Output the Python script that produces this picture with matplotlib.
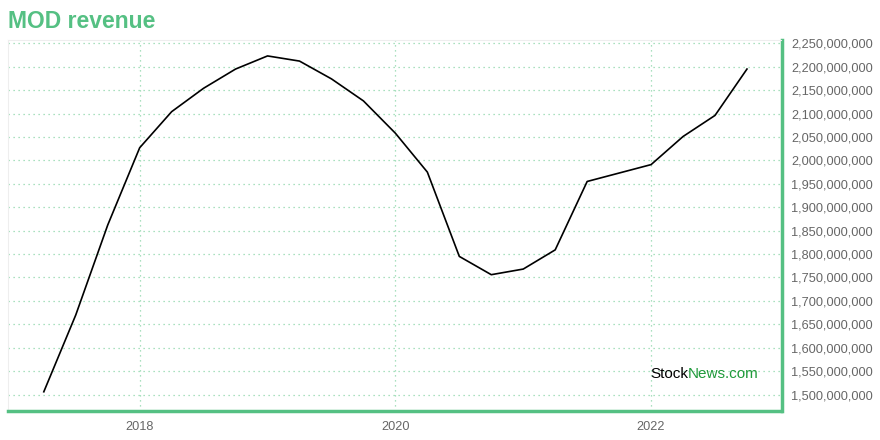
import matplotlib.pyplot as plt
from matplotlib.ticker import FuncFormatter

# quarterly revenue, decimal years
quarters = [2017.25, 2017.5, 2017.75, 2018.0, 2018.25, 2018.5, 2018.75, 2019.0,
            2019.25, 2019.5, 2019.75, 2020.0, 2020.25, 2020.5, 2020.75, 2021.0,
            2021.25, 2021.5, 2021.75, 2022.0, 2022.25, 2022.5, 2022.75]
revenue = [1.506e9, 1.670e9, 1.862e9, 2.027e9, 2.104e9, 2.154e9, 2.195e9, 2.223e9,
           2.212e9, 2.174e9, 2.127e9, 2.058e9, 1.975e9, 1.795e9, 1.756e9, 1.768e9,
           1.809e9, 1.955e9, 1.973e9, 1.991e9, 2.051e9, 2.096e9, 2.195e9]
year_ticks = [2018, 2020, 2022]
value_ticks = [1.5e9 + 50e6 * i for i in range(16)]

GREEN = '#55c083'
GRID = '#8ed6ab'
plt.rcParams['font.family'] = ['Liberation Sans', 'DejaVu Sans']

fig = plt.figure(figsize=(8.8, 4.4), dpi=100)
ax = fig.add_axes([8 / 880, 29 / 440, 773.5 / 880, 371 / 440])

ax.plot(quarters, revenue, color='black', linewidth=1.2)

ax.set_xlim(2016.97, 2023.02)
ax.set_ylim(1.465e9, 2.257e9)
ax.set_xticks(year_ticks)
ax.set_xticklabels([str(y) for y in year_ticks])
ax.set_yticks(value_ticks)
ax.yaxis.set_major_formatter(FuncFormatter(lambda v, p: f'{int(round(v)):,}'))
ax.yaxis.tick_right()
ax.tick_params(axis='both', length=0, labelsize=9.2, colors='#666666')
ax.tick_params(axis='y', pad=7)
ax.tick_params(axis='x', pad=7)

ax.grid(True, color=GRID, linestyle=(0, (1, 3)), linewidth=0.9)
ax.set_axisbelow(True)

for side in ('left', 'top'):
    ax.spines[side].set_color('#eeeeee')
    ax.spines[side].set_linewidth(0.8)
for side in ('right', 'bottom'):
    ax.spines[side].set_color(GREEN)
    ax.spines[side].set_linewidth(2.5)

fig.text(8 / 880, 1 - 21 / 440, 'MOD revenue', color=GREEN, fontsize=16.5,
         fontweight='bold', va='center', ha='left')

ax.text(0.879, 0.10, 'Stock', transform=ax.transAxes, ha='right', va='center',
        fontsize=11, color='black')
ax.text(0.879, 0.10, 'News.com', transform=ax.transAxes, ha='left', va='center',
        fontsize=11, color='#1f9a3a')

fig.savefig('out.png', dpi=100)
